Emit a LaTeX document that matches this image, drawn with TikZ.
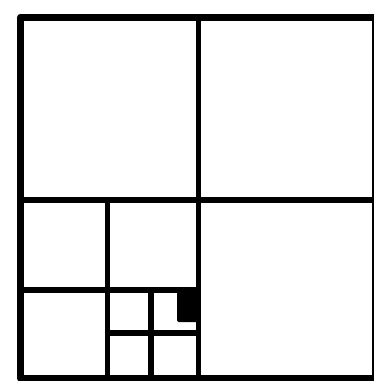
\documentclass[tikz,border=0pt]{standalone}
\begin{document}
\begin{tikzpicture}[
  x=1pt, y=-1pt,
  frame/.style={draw=black, line width=7pt, line join=round},
  split/.style={draw=black, line width=5.5pt},
  blob/.style={fill=black, rounded corners=2pt},
]
  \useasboundingbox (0,0) rectangle (373,381);
  % outer square
  \draw[frame] (20.5,17) rectangle (375.5,378);
  % level 1
  \draw[split] (198.5,17) -- (198.5,378);
  \draw[split] (20.5,200) -- (375.5,200);
  % level 2 (lower left)
  \draw[split] (107.5,200) -- (107.5,378);
  \draw[split] (20.5,290) -- (198.5,290);
  % level 3
  \draw[split] (151,290) -- (151,378);
  \draw[split] (107.5,333) -- (198.5,333);
  % level 4, filled in
  \fill[blob] (177,288) rectangle (198.5,322);
\end{tikzpicture}
\end{document}
